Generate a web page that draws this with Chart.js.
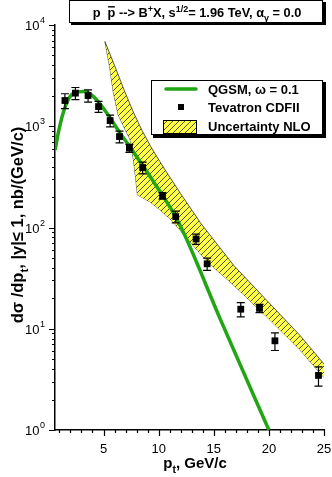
<!DOCTYPE html>
<html>
<head>
<meta charset="utf-8">
<script src="https://cdn.jsdelivr.net/npm/chart.js@4.4.0/dist/chart.umd.min.js"></script>
<style>
  body { margin: 0; background: #fff; }
  #wrap { width: 332px; height: 477px; }
</style>
</head>
<body>
<div id="wrap"><canvas id="myChart" width="332" height="477"></canvas></div>
<script>
// Tevatron CDF II points, pt in GeV/c, cross section in nb/(GeV/c)
const cdfPt = [1.5, 2.45, 3.6, 4.55, 5.6, 6.45, 7.35, 8.55, 10.35, 11.55, 13.4, 14.4, 17.45, 19.15, 20.55, 24.5];
const cdfSigma = [1795, 2123, 2010, 1565, 1138, 791, 608, 391, 206, 128, 77, 43.8, 15.6, 15.9, 7.6, 3.46];
const cdfErr = [300, 290, 280, 195, 150, 105, 55, 52, 15, 17, 9, 6, 2.5, 1.5, 1.5, 0.75];

// QGSM curve, omega = 0.1
const qgsmPt = [0.62, 0.92, 1.53, 2.28, 3.19, 4.09, 5.31, 6.51, 7.42, 8.62, 9.53, 10.43, 11.5, 12.55, 15.57, 20];
const qgsmSigma = [585, 887, 1565, 2123, 2202, 1964, 1346, 855, 622, 400, 284, 202, 130, 76, 12.6, 1];

// NLO uncertainty band, upper and lower edges
const nloUpPt = [5.13, 6.0, 6.9, 7.7, 8.5, 9.3, 10.1, 11.0, 12.0, 13.8, 16.8, 19.8, 22.8, 25];
const nloUp = [6850, 3990, 2234, 1384, 906, 627, 450, 316, 216, 111, 42.4, 19.1, 8.65, 4.48];
const nloLowPt = [5.13, 5.58, 5.88, 6.33, 6.9, 7.42, 7.72, 7.9, 8.08, 9.2, 10.1, 11.1, 12.5, 14.4, 16.8, 19.8, 22.8, 25];
const nloLow = [6850, 3750, 2200, 1297, 960, 734, 466, 320, 210, 180, 150, 120, 80, 46, 27, 13.1, 6.2, 3.3];

// axis ticks
const xMajor = [5, 10, 15, 20, 25];
const yMajor = [0, 1, 2, 3, 4];

const FONT = '"Liberation Sans", Arial, sans-serif';
const GREEN = '#22a514';

const toXY = (xs, ys) => xs.map((x, i) => ({x: x, y: ys[i]}));

// yellow hatch pattern
const makeHatch = () => {
    const c = document.createElement('canvas');
    c.width = 6; c.height = 6;
    const g = c.getContext('2d');
    g.fillStyle = '#ffff44';
    g.fillRect(0, 0, 6, 6);
    g.strokeStyle = '#222';
    g.lineWidth = 0.8;
    g.beginPath();
    g.moveTo(0, 6); g.lineTo(6, 0);
    g.moveTo(-1, 1); g.lineTo(1, -1);
    g.moveTo(5, 7); g.lineTo(7, 5);
    g.stroke();
    return g.createPattern(c, 'repeat');
};
const hatch = makeHatch();

// draw text made of pieces: {t, s} where s = 'sup' | 'sub' | undefined
const richWidth = (ctx, parts, size) => {
    let w = 0;
    parts.forEach(p => {
        ctx.font = 'bold ' + (p.s ? size * 0.7 : size) + 'px ' + FONT;
        w += ctx.measureText(p.t).width;
    });
    return w;
};
const drawRich = (ctx, parts, x, y, size) => {
    parts.forEach(p => {
        const fs = p.s ? size * 0.7 : size;
        ctx.font = 'bold ' + fs + 'px ' + FONT;
        let dy = 0;
        if (p.s === 'sup') dy = -size * 0.4;
        if (p.s === 'sub') dy = size * 0.3;
        ctx.fillText(p.t, x, y + dy);
        if (p.bar) {
            const w = ctx.measureText(p.t).width;
            ctx.fillRect(x + 0.5, y - size * 0.85, w - 1, 1.4);
        }
        x += ctx.measureText(p.t).width;
    });
};

// error bars, drawn after the green line and before the squares
const errorBars = {
    id: 'errorBars',
    afterDatasetDraw: (chart, args) => {
        if (args.index !== 1) return;
        const {ctx, scales: {x, y}} = chart;
        ctx.save();
        ctx.strokeStyle = '#000';
        ctx.lineWidth = 1.2;
        cdfPt.forEach((pt, i) => {
            const px = x.getPixelForValue(pt);
            const top = y.getPixelForValue(cdfSigma[i] + cdfErr[i]);
            const bot = y.getPixelForValue(cdfSigma[i] - cdfErr[i]);
            ctx.beginPath();
            ctx.moveTo(px, top); ctx.lineTo(px, bot);
            ctx.moveTo(px - 4, top); ctx.lineTo(px + 4, top);
            ctx.moveTo(px - 4, bot); ctx.lineTo(px + 4, bot);
            ctx.stroke();
        });
        ctx.restore();
    }
};

// ticks, tick labels, axis titles, header box and legend
const decor = {
    id: 'decor',
    afterDraw: (chart) => {
        const {ctx, chartArea: area, scales: {x, y}} = chart;
        ctx.save();
        ctx.strokeStyle = '#000';
        ctx.fillStyle = '#000';
        ctx.lineWidth = 1.2;

        // y ticks (log)
        ctx.beginPath();
        for (let e = 0; e < 4; e++) {
            for (let m = 1; m < 10; m++) {
                const py = Math.round(y.getPixelForValue(m * Math.pow(10, e))) + 0.5;
                const len = m === 1 ? 6 : 3;
                ctx.moveTo(area.left, py); ctx.lineTo(area.left - len, py);
            }
        }
        const pTop = Math.round(y.getPixelForValue(10000)) + 0.5;
        ctx.moveTo(area.left, pTop); ctx.lineTo(area.left - 6, pTop);
        // x ticks
        for (let v = 1; v <= 25; v++) {
            const px = Math.round(x.getPixelForValue(v)) + 0.5;
            const len = v % 5 === 0 ? 6 : 3;
            ctx.moveTo(px, area.bottom); ctx.lineTo(px, area.bottom + len);
        }
        ctx.stroke();

        // y tick labels 10^n
        yMajor.forEach(e => {
            const py = y.getPixelForValue(Math.pow(10, e));
            ctx.font = '13px ' + FONT;
            ctx.textAlign = 'right';
            ctx.fillText('10', 39.5, py + 5);
            ctx.font = '9px ' + FONT;
            ctx.textAlign = 'left';
            ctx.fillText(String(e), 40, py - 2);
        });
        // x tick labels
        ctx.font = '13px ' + FONT;
        ctx.textAlign = 'center';
        xMajor.forEach(v => {
            ctx.fillText(String(v), x.getPixelForValue(v), area.bottom + 23);
        });

        ctx.textAlign = 'left';
        // x title
        const xParts = [{t: 'p'}, {t: 't', s: 'sub'}, {t: ', GeV/c'}];
        const xw = richWidth(ctx, xParts, 15);
        drawRich(ctx, xParts, 195 - xw / 2, 468, 15);

        // y title, rotated
        const yParts = [{t: 'd\u03c3 /dp'}, {t: 't', s: 'sub'}, {t: ', |y|\u2264 1, nb/(GeV/c)'}];
        ctx.save();
        ctx.translate(23, 225);
        ctx.rotate(-Math.PI / 2);
        const yw = richWidth(ctx, yParts, 16.5);
        drawRich(ctx, yParts, -yw / 2, 0, 16.5);
        ctx.restore();

        // header box
        ctx.fillStyle = '#000';
        ctx.fillRect(71, 2, 255, 23);
        ctx.fillStyle = '#fff';
        ctx.fillRect(69, 0, 254, 23);
        ctx.lineWidth = 1;
        ctx.strokeRect(69.5, 0.5, 253, 22);
        ctx.fillStyle = '#000';
        const tParts = [{t: 'p  '}, {t: 'p', bar: true}, {t: ' --> B'}, {t: '+', s: 'sup'}, {t: 'X, s'},
            {t: '1/2', s: 'sup'}, {t: '= 1.96 TeV, \u03b1'}, {t: '\u03b3', s: 'sub'}, {t: ' = 0.0'}];
        const tw = richWidth(ctx, tParts, 12.8);
        drawRich(ctx, tParts, 197 - tw / 2, 17, 12.8);

        // legend box
        ctx.fillRect(153, 82, 173, 56);
        ctx.fillStyle = '#fff';
        ctx.fillRect(151, 80, 172, 55);
        ctx.strokeRect(151.5, 80.5, 171, 54);
        ctx.fillStyle = '#000';
        // QGSM line sample
        ctx.strokeStyle = GREEN;
        ctx.lineWidth = 3.5;
        ctx.lineCap = 'round';
        ctx.beginPath();
        ctx.moveTo(166, 89); ctx.lineTo(196, 89);
        ctx.stroke();
        // CDF square sample
        ctx.fillRect(178, 104, 6, 6);
        // NLO hatch sample
        ctx.fillStyle = hatch;
        ctx.fillRect(163, 120, 34, 14);
        ctx.strokeStyle = '#000';
        ctx.lineWidth = 1;
        ctx.strokeRect(163.5, 120.5, 33, 13);
        ctx.fillStyle = '#000';
        ctx.font = 'bold 13px ' + FONT;
        ctx.fillText('QGSM, \u03c9 = 0.1', 208, 94);
        ctx.fillText('Tevatron CDFII', 208, 112);
        ctx.fillText('Uncertainty NLO', 208, 131);
        ctx.restore();
    }
};

// Create chart
var ctx = document.getElementById('myChart').getContext('2d');
var myChart = new Chart(ctx, {
    type: 'scatter',
    data: {
        datasets: [{
            label: 'Tevatron CDFII',
            data: toXY(cdfPt, cdfSigma),
            showLine: false,
            pointStyle: 'rect',
            pointRadius: 4.8,
            backgroundColor: '#000',
            borderColor: '#000',
            borderWidth: 0,
            order: 0
        }, {
            label: 'QGSM, \u03c9 = 0.1',
            data: toXY(qgsmPt, qgsmSigma),
            showLine: true,
            borderColor: GREEN,
            borderWidth: 3.5,
            pointRadius: 0,
            cubicInterpolationMode: 'monotone',
            order: 1
        }, {
            label: 'Uncertainty NLO',
            data: toXY(nloUpPt, nloUp),
            showLine: true,
            borderColor: '#333',
            borderWidth: 0.8,
            backgroundColor: hatch,
            pointRadius: 0,
            fill: 3,
            order: 2
        }, {
            label: 'NLO low',
            data: toXY(nloLowPt, nloLow),
            showLine: true,
            borderColor: '#333',
            borderWidth: 0.8,
            pointRadius: 0,
            fill: false,
            order: 3
        }]
    },
    options: {
        responsive: false,
        animation: false,
        layout: {
            padding: {top: 25, right: 8, left: 0, bottom: 0}
        },
        plugins: {
            legend: {display: false},
            tooltip: {enabled: false},
            title: {display: false}
        },
        scales: {
            x: {
                type: 'linear',
                min: 0.6,
                max: 25,
                grid: {display: false},
                border: {display: true, color: '#000', width: 1.5},
                ticks: {display: false},
                afterFit: (scale) => { scale.height = 47; }
            },
            y: {
                type: 'logarithmic',
                min: 1,
                max: 10000,
                grid: {display: false},
                border: {display: true, color: '#000', width: 1.5},
                ticks: {display: false},
                afterFit: (scale) => { scale.width = 55; }
            }
        }
    },
    plugins: [errorBars, decor]
});
</script>
</body>
</html>
